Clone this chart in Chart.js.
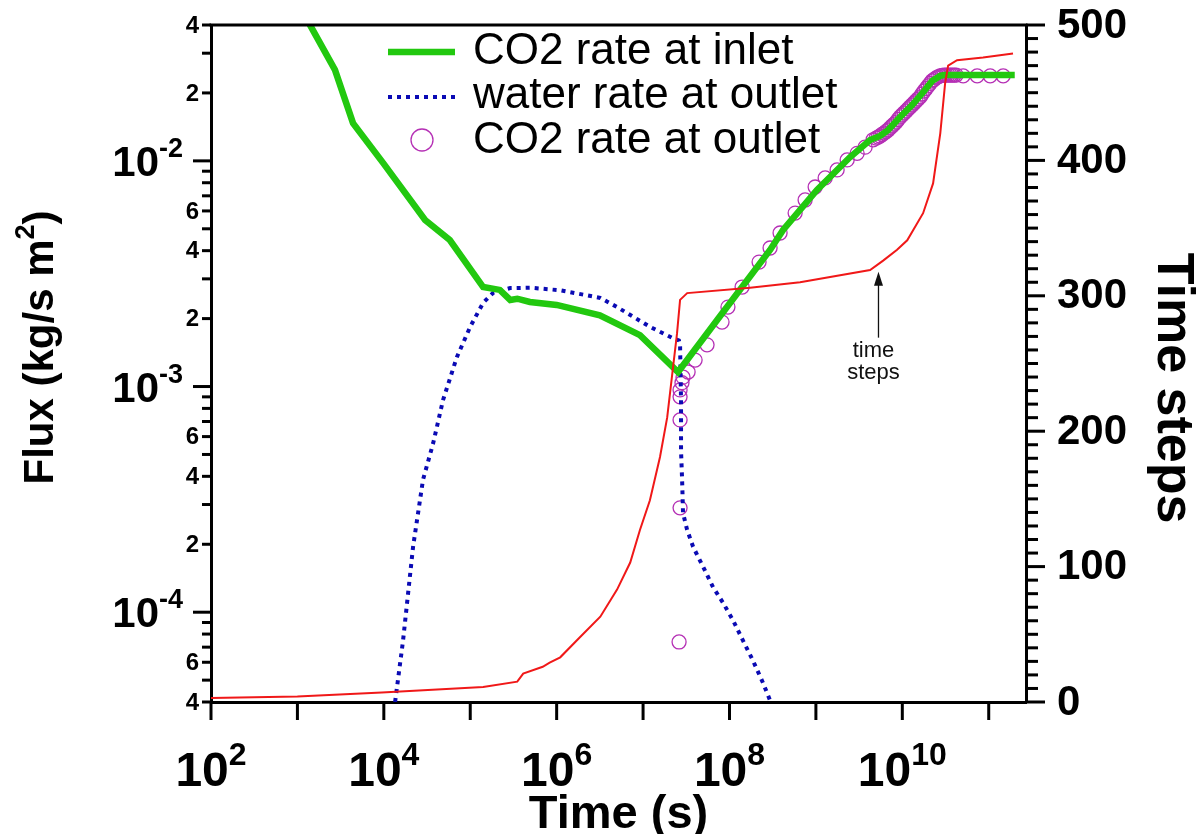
<!DOCTYPE html>
<html>
<head>
<meta charset="utf-8">
<title>CO2 and water flux</title>
<script src="https://cdn.jsdelivr.net/npm/chart.js@4.4.1/dist/chart.umd.min.js"></script>
<style>
  html, body { margin: 0; padding: 0; background: #fff; }
  canvas { display: block; }
</style>
</head>
<body>
<canvas id="flux-chart" width="1199" height="834"></canvas>
<script>
// CO2 rate at inlet (kg/s m2) over time (s)
const inletTime = [1e3, 1.4e3, 2.72e3, 4.4e3, 9.8e3, 3.0e4, 5.8e4, 1.41e5, 2.2e5, 2.9e5, 3.5e5,
  4.9e5, 1e6, 3.16e6, 9.2e6, 2.54e7, 7.2e7, 2.95e8, 4.17e8, 1.03e9, 2.49e9, 4.24e9, 5.53e9,
  6.85e9, 9.44e9, 1.3e10, 1.79e10, 2.21e10, 2.74e10, 3.05e10, 2.0e11];
const inletFlux = [0.05, 0.04, 0.0253, 0.0147, 0.0098, 0.00547, 0.00446, 0.00276, 0.00268, 0.00242, 0.00245,
  0.00237, 0.0023, 0.00207, 0.00169, 0.00116, 0.00197, 0.00403, 0.00494, 0.00744, 0.0104, 0.01238, 0.0129,
  0.0137, 0.01565, 0.01768, 0.0204, 0.0226, 0.0238, 0.024, 0.024];

// water rate at outlet
const waterTime = [1.35e4, 1.67e4, 2.18e4, 2.84e4, 3.72e4, 4.84e4, 7.0e4, 1.0e5, 1.41e5, 1.84e5, 2.9e5,
  5.0e5, 1.1e6, 3.2e6, 5.0e6, 1.2e7, 2.2e7, 2.6e7, 2.68e7, 2.75e7, 2.75e7, 2.83e7, 2.9e7, 3.23e7,
  3.79e7, 4.95e7, 6.46e7, 8.43e7, 1.1e8, 1.43e8, 1.87e8, 2.45e8, 3.0e8];
const waterFlux = [4e-5, 7.5e-5, 1.95e-4, 3.86e-4, 5.6e-4, 8.7e-4, 1.35e-3, 1.84e-3, 2.35e-3, 2.6e-3, 2.73e-3,
  2.74e-3, 2.67e-3, 2.47e-3, 2.25e-3, 1.84e-3, 1.64e-3, 1.6e-3, 1.53e-3, 8.7e-4, 5.2e-4, 3.86e-4, 2.75e-4, 2.32e-4,
  1.95e-4, 1.59e-4, 1.29e-4, 1.1e-4, 9.2e-5, 7.5e-5, 6.1e-5, 4.85e-5, 4e-5];

// CO2 rate at outlet (sampled output, drawn as circles)
const outletTime = [2.61e7, 2.68e7, 2.68e7, 2.68e7, 2.68e7, 2.82e7, 2.9e7, 3.32e7, 4.0e7, 5.5e7, 8.2e7,
  9.6e7, 1.4e8, 2.2e8, 2.95e8, 3.85e8, 5.75e8, 7.5e8, 9.8e8, 1.28e9, 1.76e9, 2.3e9, 3.0e9, 3.71e9, 4.59e9,
  4.98e9, 5.25e9, 5.53e9, 5.83e9, 6.15e9, 6.5e9, 6.85e9, 7.23e9, 7.62e9, 8.04e9, 8.48e9, 8.94e9, 9.44e9,
  9.95e9, 1.05e10, 1.11e10, 1.17e10, 1.23e10, 1.3e10, 1.37e10, 1.44e10, 1.52e10, 1.61e10, 1.69e10,
  1.79e10, 1.89e10, 1.99e10, 2.1e10, 2.21e10, 2.33e10, 2.46e10, 2.59e10, 2.74e10, 2.89e10, 3.05e10,
  3.21e10, 3.39e10, 3.58e10, 3.77e10, 3.98e10, 4.2e10,
  5.06e10, 7.35e10, 1.04e11, 1.47e11];
const outletFlux = [7.38e-5, 2.9e-4, 7.11e-4, 9.0e-4, 9.66e-4, 1.04e-3, 1.1e-3, 1.16e-3, 1.31e-3, 1.53e-3, 1.93e-3,
  2.25e-3, 2.76e-3, 3.56e-3, 4.11e-3, 4.79e-3, 5.87e-3, 6.71e-3, 7.66e-3, 8.4e-3, 9.12e-3, 1.01e-2, 1.08e-2, 1.15e-2, 1.24e-2,
  1.262e-2, 1.275e-2, 1.289e-2, 1.309e-2, 1.328e-2, 1.349e-2, 1.37e-2, 1.399e-2, 1.427e-2, 1.456e-2, 1.486e-2, 1.525e-2, 1.565e-2,
  1.597e-2, 1.63e-2, 1.663e-2, 1.70e-2, 1.733e-2, 1.768e-2, 1.805e-2, 1.842e-2, 1.88e-2, 1.92e-2, 1.978e-2,
  2.04e-2, 2.093e-2, 2.15e-2, 2.203e-2, 2.26e-2, 2.293e-2, 2.33e-2, 2.354e-2, 2.38e-2, 2.39e-2, 2.4e-2,
  2.4e-2, 2.4e-2, 2.4e-2, 2.4e-2, 2.4e-2, 2.4e-2,
  2.38e-2, 2.38e-2, 2.38e-2, 2.38e-2];

// cumulative number of time steps (right axis)
const stepTime = [1e2, 1e3, 9.5e3, 1.41e5, 3.5e5, 4.1e5, 6.9e5, 8.3e5, 1.1e6, 1.87e6, 3.2e6, 5.0e6,
  7.1e6, 9.2e6, 1.2e7, 1.57e7, 1.9e7, 2.22e7, 2.47e7, 2.68e7, 3.24e7, 1.73e8, 6.56e8, 4.24e9, 6.0e9,
  8.7e9, 1.14e10, 1.74e10, 2.27e10, 2.75e10, 3.13e10, 3.39e10, 4.3e10, 8.6e10, 1.91e11];
const stepCount = [3, 4, 7, 11, 15, 21, 26, 29, 33, 48, 63, 83,
  103, 127, 149, 181, 210, 247, 272, 297, 302, 306, 310, 319, 326,
  334, 341, 361, 383, 420, 457, 470, 474, 476, 479];

// axis ranges and labelled ticks
const timeRange = [1e2, 2.7e11];
const fluxRange = [4e-5, 4e-2];
const stepRange = [0, 500];
const timeLabelExponents = [2, 4, 6, 8, 10];
const fluxLabelExponents = [-2, -3, -4];
const fluxMinorLabels = [2, 4, 6];
const stepLabels = [0, 100, 200, 300, 400, 500];

// where the "time steps" arrow points
const noteTime = 5.3e9;
const noteStep = 323;

const FONT = '"Liberation Sans", Arial, Helvetica, sans-serif';
const GREEN = '#22c80f';
const BLUE = '#0a0ab4';
const MAGENTA = '#b530b5';
const RED = '#f01818';

function toPoints(xs, ys) {
  return xs.map((x, i) => ({ x: x, y: ys[i] }));
}

// draws text made of pieces: [text, fontSize, rise]
function drawRich(ctx, parts, x, y, align) {
  const widths = parts.map(p => {
    ctx.font = 'bold ' + p[1] + 'px ' + FONT;
    return ctx.measureText(p[0]).width;
  });
  const total = widths.reduce((a, b) => a + b, 0);
  let left = x;
  if (align === 'center') left = x - total / 2;
  if (align === 'right') left = x - total;
  ctx.textAlign = 'left';
  ctx.textBaseline = 'alphabetic';
  parts.forEach((p, i) => {
    ctx.font = 'bold ' + p[1] + 'px ' + FONT;
    ctx.fillText(p[0], left, y - p[2]);
    left += widths[i];
  });
}

const axisDecor = {
  id: 'axisDecor',
  afterDraw(chart) {
    const ctx = chart.ctx;
    const area = chart.chartArea;
    const { x, y, y2 } = chart.scales;
    ctx.save();
    ctx.strokeStyle = '#000';
    ctx.fillStyle = '#000';
    ctx.lineWidth = 3;
    ctx.lineCap = 'butt';
    const seg = (x1, y1, x2, yy2) => {
      ctx.beginPath();
      ctx.moveTo(x1, y1);
      ctx.lineTo(x2, yy2);
      ctx.stroke();
    };

    // frame along the top
    seg(area.left - 1.5, area.top, area.right + 1.5, area.top);

    // time axis: tick each decade, label every other one
    for (let e = 2; e <= 11; e++) {
      const px = x.getPixelForValue(Math.pow(10, e));
      seg(px, area.bottom, px, area.bottom + 18);
    }
    timeLabelExponents.forEach(e => {
      const px = x.getPixelForValue(Math.pow(10, e));
      drawRich(ctx, [['10', 48, 0], [String(e), 32, 21]], px, 786, 'center');
    });

    // flux axis: long ticks on decades, short ones between
    for (let e = -5; e <= -2; e++) {
      for (let m = 1; m <= 9; m++) {
        const v = m * Math.pow(10, e);
        if (v < fluxRange[0] * 0.999 || v > fluxRange[1] * 1.001) continue;
        const py = y.getPixelForValue(v);
        seg(area.left, py, area.left - (m === 1 ? 18 : 9), py);
        if (fluxMinorLabels.includes(m)) {
          ctx.font = 'bold 24px ' + FONT;
          ctx.textAlign = 'right';
          ctx.textBaseline = 'middle';
          ctx.fillText(String(m), area.left - 12, py + 1);
        }
      }
    }
    fluxLabelExponents.forEach(e => {
      const py = y.getPixelForValue(Math.pow(10, e));
      drawRich(ctx, [['10', 42, 0], [String(e), 27, 19]], area.left - 28, py + 15, 'right');
    });

    // time step axis on the right
    for (let v = stepRange[0]; v <= stepRange[1]; v += 10) {
      const py = y2.getPixelForValue(v);
      seg(area.right, py, area.right + (v % 100 === 0 ? 19 : 12), py);
    }
    ctx.font = 'bold 42px ' + FONT;
    ctx.textAlign = 'left';
    ctx.textBaseline = 'middle';
    stepLabels.forEach(v => {
      ctx.fillText(String(v), area.right + 31, y2.getPixelForValue(v) + 1);
    });

    // axis titles
    drawRich(ctx, [['Time (s)', 47, 0]], (area.left + area.right) / 2, 828, 'center');

    ctx.save();
    ctx.translate(53, (area.top + area.bottom) / 2 - 16);
    ctx.rotate(-Math.PI / 2);
    drawRich(ctx, [['Flux (kg/s m', 42, 0], ['2', 27, 19], [')', 42, 0]], 0, 0, 'center');
    ctx.restore();

    ctx.save();
    ctx.translate(1158, 388);
    ctx.rotate(Math.PI / 2);
    drawRich(ctx, [['Time steps', 52, 0]], 0, 0, 'center');
    ctx.restore();

    // legend
    const lx0 = 388, lx1 = 455;
    ctx.lineWidth = 6.5;
    ctx.strokeStyle = GREEN;
    seg(lx0, 52, lx1, 52);
    ctx.lineWidth = 4;
    ctx.strokeStyle = BLUE;
    ctx.setLineDash([4, 5]);
    seg(lx0, 97, lx1, 97);
    ctx.setLineDash([]);
    ctx.lineWidth = 1.3;
    ctx.strokeStyle = MAGENTA;
    ctx.beginPath();
    ctx.arc(422, 140, 11, 0, Math.PI * 2);
    ctx.stroke();
    ctx.fillStyle = '#000';
    ctx.font = '44px ' + FONT;
    ctx.textAlign = 'left';
    ctx.textBaseline = 'alphabetic';
    ctx.fillText('CO2 rate at inlet', 473, 64);
    ctx.fillText('water rate at outlet', 473, 108);
    ctx.fillText('CO2 rate at outlet', 473, 153);

    // arrow to the time step curve
    const ax = x.getPixelForValue(noteTime);
    const tip = y2.getPixelForValue(noteStep) + 7;
    ctx.strokeStyle = '#111';
    ctx.fillStyle = '#111';
    ctx.lineWidth = 1.3;
    seg(ax, tip + 12, ax, tip + 66);
    ctx.beginPath();
    ctx.moveTo(ax, tip);
    ctx.lineTo(ax - 4.5, tip + 14);
    ctx.lineTo(ax + 4.5, tip + 14);
    ctx.closePath();
    ctx.fill();
    ctx.font = '22px ' + FONT;
    ctx.textAlign = 'center';
    ctx.fillText('time', ax - 5, tip + 85);
    ctx.fillText('steps', ax - 5, tip + 107);

    ctx.restore();
  }
};

new Chart(document.getElementById('flux-chart'), {
  type: 'line',
  data: {
    datasets: [
      {
        label: 'time steps',
        data: toPoints(stepTime, stepCount),
        yAxisID: 'y2',
        borderColor: RED,
        borderWidth: 2,
        pointRadius: 0,
        order: 0
      },
      {
        label: 'CO2 rate at inlet',
        data: toPoints(inletTime, inletFlux),
        yAxisID: 'y',
        borderColor: GREEN,
        borderWidth: 6.5,
        pointRadius: 0,
        order: 1
      },
      {
        label: 'water rate at outlet',
        data: toPoints(waterTime, waterFlux),
        yAxisID: 'y',
        borderColor: BLUE,
        borderWidth: 4,
        borderDash: [4, 5],
        pointRadius: 0,
        order: 2
      },
      {
        label: 'CO2 rate at outlet',
        data: toPoints(outletTime, outletFlux),
        yAxisID: 'y',
        showLine: false,
        pointRadius: 7,
        pointBorderWidth: 1.3,
        pointBorderColor: MAGENTA,
        pointBackgroundColor: 'rgba(0,0,0,0)',
        order: 3
      }
    ]
  },
  options: {
    responsive: false,
    animation: false,
    layout: { padding: { top: 25, left: 0, right: 0, bottom: 0 } },
    plugins: {
      legend: { display: false },
      tooltip: { enabled: false }
    },
    elements: { line: { tension: 0 } },
    scales: {
      x: {
        type: 'logarithmic',
        min: timeRange[0],
        max: timeRange[1],
        ticks: { display: false },
        grid: { display: false },
        border: { display: true, color: '#000', width: 3 },
        afterFit(scale) { scale.height = 132; }
      },
      y: {
        type: 'logarithmic',
        position: 'left',
        min: fluxRange[0],
        max: fluxRange[1],
        ticks: { display: false },
        grid: { display: false },
        border: { display: true, color: '#000', width: 3 },
        afterFit(scale) { scale.width = 211; }
      },
      y2: {
        type: 'linear',
        position: 'right',
        min: stepRange[0],
        max: stepRange[1],
        ticks: { display: false },
        grid: { display: false },
        border: { display: true, color: '#000', width: 3 },
        afterFit(scale) { scale.width = 173; }
      }
    }
  },
  plugins: [axisDecor]
});
</script>
</body>
</html>
